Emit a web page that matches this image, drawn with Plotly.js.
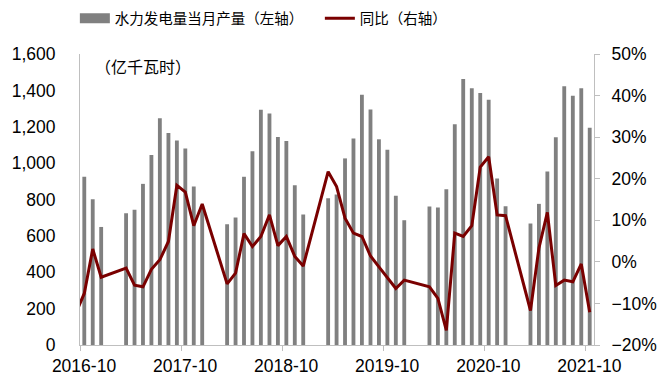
<!DOCTYPE html>
<html>
<head>
<meta charset="utf-8">
<script src="https://cdn.plot.ly/plotly-3.0.1.min.js"></script>
<style>html,body{margin:0;padding:0;background:#fff}#chart{width:672px;height:386px}</style>
</head>
<body>
<div id="chart"></div>
<script>
// Months (Jan/Feb are not reported separately -> null)
const months = [
  "2016-09","2016-10","2016-11","2016-12",
  "2017-01","2017-02","2017-03","2017-04","2017-05","2017-06","2017-07","2017-08","2017-09","2017-10","2017-11","2017-12",
  "2018-01","2018-02","2018-03","2018-04","2018-05","2018-06","2018-07","2018-08","2018-09","2018-10","2018-11","2018-12",
  "2019-01","2019-02","2019-03","2019-04","2019-05","2019-06","2019-07","2019-08","2019-09","2019-10","2019-11","2019-12",
  "2020-01","2020-02","2020-03","2020-04","2020-05","2020-06","2020-07","2020-08","2020-09","2020-10","2020-11","2020-12",
  "2021-01","2021-02","2021-03","2021-04","2021-05","2021-06","2021-07","2021-08","2021-09","2021-10"
];
// 水力发电量当月产量 (亿千瓦时)
const output = [
  null,925,802,649,
  null,null,724,743,886,1045,1247,1166,1124,1080,872,765,
  null,null,664,701,925,1065,1293,1273,1144,1122,879,717,
  null,null,807,828,1026,1136,1376,1295,1131,1074,820,686,
  null,null,761,756,857,1214,1462,1411,1385,1348,916,763,
  null,null,668,776,954,1142,1422,1370,1411,1195
];
// 同比 (%)
const yoy = [
  -12.3,-7.6,3.1,-3.7,
  null,null,-1.5,-5.6,-6.0,-1.8,0.5,4.9,18.4,16.8,8.7,13.9,
  null,null,-5.3,-2.7,6.8,3.7,6.1,11.3,3.9,6.1,1.3,-1.0,
  null,null,21.7,18.1,10.5,6.9,6.1,1.4,-1.2,-3.9,-6.4,-4.4,
  null,null,-6.0,-8.8,-16.5,6.9,6.1,8.7,22.8,25.3,11.3,11.1,
  null,null,-11.7,3.3,11.9,-5.7,-4.4,-4.8,-0.5,-12.1
];
const tickMonths = ["2016-10","2017-10","2018-10","2019-10","2020-10","2021-10"];
const barName = "水力发电量当月产量（左轴）";
const lineName = "同比（右轴）";
const unitLabel = "（亿千瓦时）";

const cjk = '"Noto Sans CJK SC", "Noto Sans", sans-serif';
const latin = '"Liberation Sans", Arial, sans-serif';
const barColor = '#808080';
const lineColor = '#7a0000';
const axisColor = '#bfbfbf';

const traces = [
  {
    type: 'bar', name: barName, x: months, y: output,
    xperiod: 'M1', xperiodalignment: 'middle',
    width: 1.2e9, marker: {color: barColor}, showlegend: false,
    hoverinfo: 'skip'
  },
  {
    type: 'scatter', mode: 'lines', name: barName, x: [null], y: [null],
    line: {color: barColor, width: 10}, showlegend: true, hoverinfo: 'skip'
  },
  {
    type: 'scatter', mode: 'lines', name: lineName, x: months, y: yoy, yaxis: 'y2',
    xperiod: 'M1', xperiodalignment: 'middle',
    connectgaps: true,
    line: {color: lineColor, width: 3}, hoverinfo: 'skip'
  }
];

const layout = {
  width: 672, height: 386,
  margin: {l: 80, r: 78, t: 54, b: 41, pad: 0, autoexpand: false},
  paper_bgcolor: '#fff', plot_bgcolor: '#fff',
  font: {family: latin, size: 17.5, color: '#000'},
  showlegend: true,
  legend: {
    orientation: 'h', x: -0.01, xanchor: 'left', y: 1.068, yanchor: 'bottom',
    font: {family: cjk, size: 14.5, color: '#000'},
    itemwidth: 30, traceorder: 'normal', bgcolor: 'rgba(0,0,0,0)',
    entrywidth: 200, entrywidthmode: 'pixels'
  },
  xaxis: {
    type: 'date',
    range: ['2016-10-01', '2021-11-01'],
    tickmode: 'array',
    tickvals: tickMonths.map(m => m + '-01'),
    ticktext: tickMonths,
    ticks: 'outside', ticklen: 5, tickcolor: axisColor, tickwidth: 1,
    ticklabelshift: 4,
    showline: true, linecolor: axisColor, linewidth: 1,
    showgrid: false, zeroline: false,
    tickfont: {family: latin, size: 17.5, color: '#000'}
  },
  yaxis: {
    range: [0, 1600], dtick: 200, tickformat: ',d',
    showline: true, linecolor: axisColor, linewidth: 1,
    ticks: '', ticklabelstandoff: 20,
    showgrid: false, zeroline: false,
    tickfont: {family: latin, size: 17.5, color: '#000'}
  },
  yaxis2: {
    overlaying: 'y', side: 'right',
    range: [-20, 50], dtick: 10, ticksuffix: '%',
    showline: true, linecolor: axisColor, linewidth: 1,
    ticks: 'outside', ticklen: 5, tickcolor: axisColor,
    ticklabelstandoff: 8,
    showgrid: false, zeroline: false,
    tickfont: {family: latin, size: 17.5, color: '#000'}
  },
  annotations: [{
    text: unitLabel, xref: 'paper', yref: 'paper',
    x: 0.025, y: 0.96, xanchor: 'left', yanchor: 'middle', showarrow: false,
    font: {family: cjk, size: 16, color: '#000'}
  }]
};

Plotly.newPlot('chart', traces, layout, {staticPlot: true});
</script>
</body>
</html>
